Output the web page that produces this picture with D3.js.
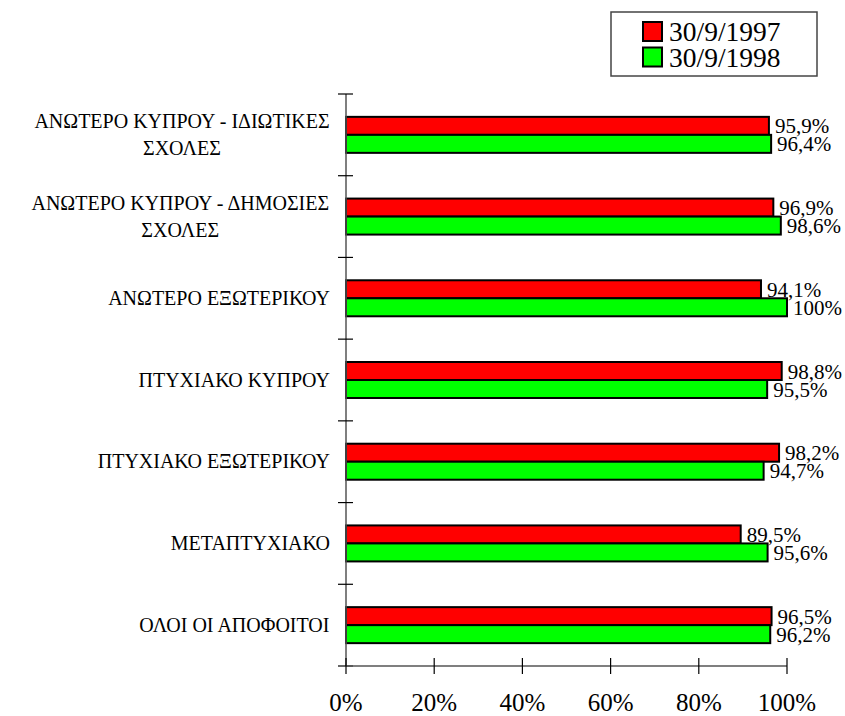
<!DOCTYPE html>
<html><head><meta charset="utf-8">
<script src="https://cdn.jsdelivr.net/npm/d3@7"></script>
<style>body{margin:0;background:#fff}svg{display:block}</style>
</head><body><svg id="c" width="845" height="716"></svg>
<script>
const categories = [
  ["ΑΝΩΤΕΡΟ ΚΥΠΡΟΥ - ΙΔΙΩΤΙΚΕΣ","ΣΧΟΛΕΣ"],
  ["ΑΝΩΤΕΡΟ ΚΥΠΡΟΥ - ΔΗΜΟΣΙΕΣ","ΣΧΟΛΕΣ"],
  ["ΑΝΩΤΕΡΟ ΕΞΩΤΕΡΙΚΟΥ"],
  ["ΠΤΥΧΙΑΚΟ ΚΥΠΡΟΥ"],
  ["ΠΤΥΧΙΑΚΟ ΕΞΩΤΕΡΙΚΟΥ"],
  ["ΜΕΤΑΠΤΥΧΙΑΚΟ"],
  ["ΟΛΟΙ ΟΙ ΑΠΟΦΟΙΤΟΙ"]
];
const seriesNames = ["30/9/1997","30/9/1998"];
const values1997 = [95.9, 96.9, 94.1, 98.8, 98.2, 89.5, 96.5];
const values1998 = [96.4, 98.6, 100, 95.5, 94.7, 95.6, 96.2];
const seriesColors = ["#ff0000","#00ff00"];
const xTicks = [0,20,40,60,80,100];

const fontName = "Times New Roman";
const FONT = `"${fontName}"`;
const svg = d3.select("#c");
const x0 = 346, x1 = 787, yTop = 94, yBot = 666;
const x = d3.scaleLinear().domain([0,100]).range([x0,x1]);
const idx = d3.range(categories.length);
const y = d3.scaleBand().domain(idx).range([yTop,yBot]).padding(0);
const series = [values1997, values1998];
const barH = 18;
const fmt = v => (Number.isInteger(v) ? String(v) : v.toFixed(1).replace(".", ",")) + "%";
const txt = (g) => g.append("text").style("font-family", FONT).attr("fill", "#000");
const ctx = document.createElement("canvas").getContext("2d");
const measure = (s, size) => { ctx.font = size + "px " + FONT; return ctx.measureText(s).width; };

// bars
idx.forEach(i => {
  const cy = y(i) + y.bandwidth()/2;
  const sub = d3.scaleBand().domain([0,1]).range([cy - barH, cy + barH]);
  series.forEach((vals, s) => {
    svg.append("rect")
      .attr("x", x(0)).attr("y", sub(s))
      .attr("width", x(vals[i]) - x(0)).attr("height", sub.bandwidth())
      .attr("fill", seriesColors[s]).attr("stroke", "#000").attr("stroke-width", 2);
  });
});
idx.forEach(i => {
  const cy = y(i) + y.bandwidth()/2;
  const sub = d3.scaleBand().domain([0,1]).range([cy - barH, cy + barH]);
  series.forEach((vals, s) => {
    txt(svg)
      .attr("x", x(vals[i]) + 6).attr("y", sub(s) + sub.bandwidth()/2)
      .attr("dy", "0.36em").attr("font-size", 21)
      .text(fmt(vals[i]));
  });
});

// y axis
svg.append("line").attr("x1", x0).attr("x2", x0).attr("y1", yTop).attr("y2", yBot)
  .attr("stroke", "#555").attr("stroke-width", 1.5);
d3.range(categories.length + 1).forEach(k => {
  const yy = yTop + k * y.step();
  svg.append("line").attr("x1", x0 - 8).attr("x2", x0 + 7).attr("y1", yy).attr("y2", yy)
    .attr("stroke", "#000").attr("stroke-width", 1.2);
});
// category labels
idx.forEach(i => {
  const lines = categories[i];
  const cy = y(i) + y.bandwidth()/2;
  const lh = 27;
  const maxW = d3.max(lines, ln => measure(ln, 20));
  lines.forEach((ln, j) => txt(svg)
    .attr("x", 330 - maxW/2).attr("text-anchor", "middle")
    .attr("y", cy + (j - (lines.length - 1)/2) * lh).attr("dy", "0.33em")
    .attr("font-size", 20).text(ln));
});

// x axis
svg.append("line").attr("x1", x0).attr("x2", x1).attr("y1", yBot).attr("y2", yBot)
  .attr("stroke", "#555").attr("stroke-width", 1.5);
xTicks.forEach(t => {
  svg.append("line").attr("x1", x(t)).attr("x2", x(t)).attr("y1", yBot - 8).attr("y2", yBot + 8)
    .attr("stroke", "#000").attr("stroke-width", 1.2);
  txt(svg).attr("x", x(t)).attr("y", 711).attr("text-anchor", "middle")
    .attr("font-size", 25).text(t + "%");
});

// legend
const lg = svg.append("g");
lg.append("rect").attr("x", 611).attr("y", 12).attr("width", 206).attr("height", 64)
  .attr("fill", "#fff").attr("stroke", "#444").attr("stroke-width", 1.5);
seriesNames.forEach((n, s) => {
  const top = 22 + s * 25.5;
  lg.append("rect").attr("x", 643).attr("y", top).attr("width", 19).attr("height", 19)
    .attr("fill", seriesColors[s]).attr("stroke", "#000").attr("stroke-width", 2);
  txt(lg).attr("x", 669).attr("y", top + 19).attr("font-size", 27.5).text(n);
});
</script></body></html>
